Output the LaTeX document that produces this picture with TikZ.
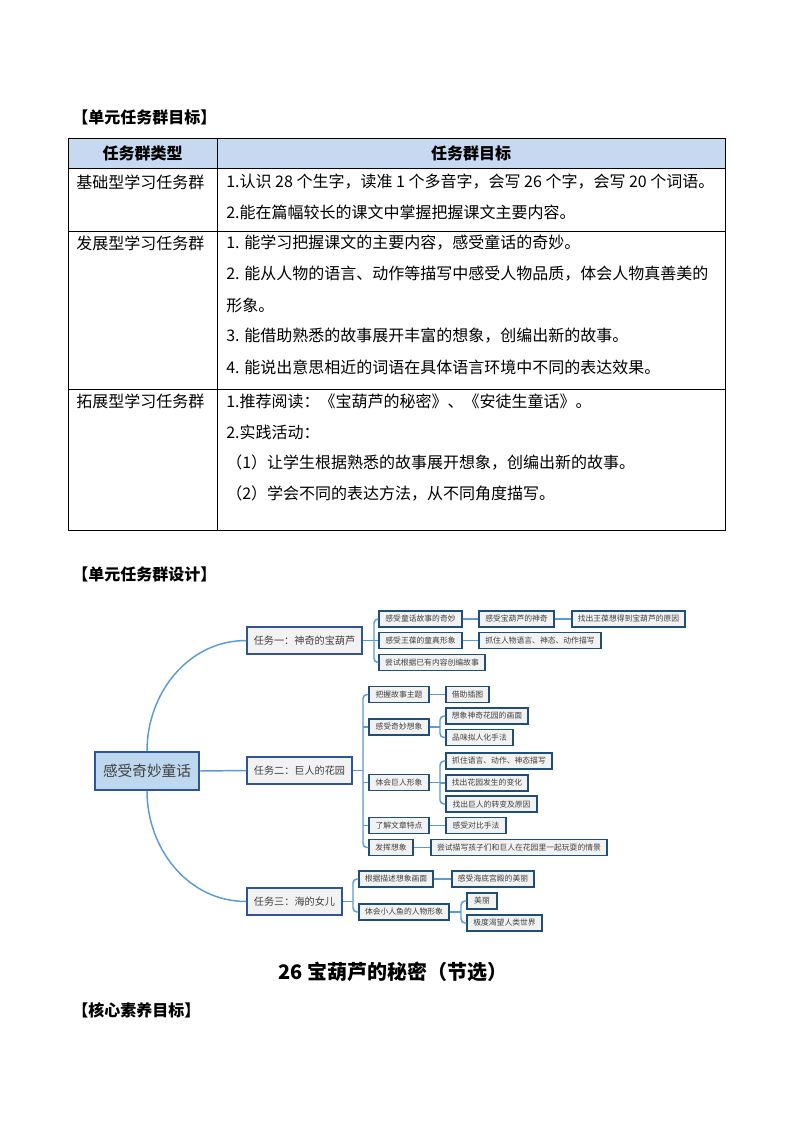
\documentclass[tikz,border=0pt]{standalone}
\usepackage{fontspec}
\newfontfamily\cjk{Noto Sans CJK SC}
\usetikzlibrary{calc}
\definecolor{hdr}{HTML}{C6D9F1}
\definecolor{mmline}{HTML}{5B9BD5}
\definecolor{mmbd}{HTML}{2F5597}
\definecolor{sbd}{HTML}{1F4E79}
\definecolor{rootfill}{HTML}{BDD7EE}
\definecolor{boxfill}{HTML}{F2F2F2}
\definecolor{mmtext}{HTML}{404040}
\begin{document}
\begin{tikzpicture}[x=0.75pt,y=-0.75pt,
 tl/.style={font=\cjk\fontsize{12}{14}\selectfont, anchor=west, inner sep=0},
 tc/.style={font=\cjk\bfseries\fontsize{12}{14}\selectfont, inner sep=0},
 hd/.style={font=\cjk\bfseries\fontsize{12}{14}\selectfont, anchor=west, inner sep=0},
 grid/.style={draw=black, line width=0.75pt},
 mm/.style={draw=mmline, line width=1.1pt},
 sbox/.style={draw=sbd, line width=0.9pt, fill=boxfill, text=mmtext, font=\cjk\fontsize{5.85}{7}\selectfont, minimum height=12pt, inner sep=0},
 tbox/.style={draw=mmbd, line width=1.1pt, fill=boxfill, text=mmtext, font=\cjk\fontsize{7.6}{9}\selectfont, minimum height=20.25pt, inner sep=0},
 rbox/.style={draw=mmbd, line width=1.3pt, fill=rootfill, text=mmtext, font=\cjk\fontsize{11}{13}\selectfont, minimum height=28.5pt, inner sep=0},
 w/.style={minimum width=#1*0.75pt},
]
\path[use as bounding box, fill=white] (0,0) rectangle (794,1123);

% headings
\node[hd] (h1) at (72,117) {【单元任务群目标】};
\node[hd] (h2) at (72,574) {【单元任务群设计】};
\node[tc, font=\cjk\bfseries\fontsize{15}{18}\selectfont] (title) at (393,972) {26 宝葫芦的秘密（节选）};
\node[hd] (h3) at (72,1010) {【核心素养目标】};

% table
\fill[hdr] (68,139) rectangle (725,169);
\draw[grid] (68,139) rectangle (725,530);
\draw[grid] (68,169) -- (725,169);
\draw[grid] (68,232) -- (725,232);
\draw[grid] (68,389) -- (725,389);
\draw[grid] (217,139) -- (217,530);

\node[tc] (th1) at (142.5,153) {任务群类型};
\node[tc] (th2) at (471,153) {任务群目标};

\node[tl] (c1) at (76,182) {基础型学习任务群};
\node[tl] (r1a) at (226,182) {1.认识 28 个生字，读准 1 个多音字，会写 26 个字，会写 20 个词语。};
\node[tl] (r1b) at (226,212) {2.能在篇幅较长的课文中掌握把握课文主要内容。};

\node[tl] (c2) at (76,243) {发展型学习任务群};
\node[tl] (r2a) at (226,243) {1. 能学习把握课文的主要内容，感受童话的奇妙。};
\node[tl] (r2b) at (226,274) {2. 能从人物的语言、动作等描写中感受人物品质，体会人物真善美的};
\node[tl] (r2c) at (226,305) {形象。};
\node[tl] (r2d) at (226,336) {3. 能借助熟悉的故事展开丰富的想象，创编出新的故事。};
\node[tl] (r2e) at (226,367) {4. 能说出意思相近的词语在具体语言环境中不同的表达效果。};

\node[tl] (c3) at (76,401) {拓展型学习任务群};
\node[tl] (r3a) at (226,401) {1.推荐阅读：《宝葫芦的秘密》、《安徒生童话》。};
\node[tl] (r3b) at (226,432) {2.实践活动：};
\node[tl] (r3c) at (226,463) {（1）让学生根据熟悉的故事展开想象，创编出新的故事。};
\node[tl] (r3d) at (226,494) {（2）学会不同的表达方法，从不同角度描写。};

% mind map nodes
\node[rbox, w=104] (root) at (147,771) {感受奇妙童话};
\node[tbox, w=115] (t1) at (304.5,640.5) {任务一：神奇的宝葫芦};
\node[tbox, w=105] (t2) at (299.5,770.5) {任务二：巨人的花园};
\node[tbox, w=95] (t3) at (294.5,901.5) {任务三：海的女儿};

\node[sbox, w=83] (a1) at (420.5,619) {感受童话故事的奇妙};
\node[sbox, w=83] (a2) at (420.5,640.5) {感受王葆的童真形象};
\node[sbox, w=106] (a3) at (432,662.5) {尝试根据已有内容创编故事};
\node[sbox, w=75] (a11) at (516.5,619) {感受宝葫芦的神奇};
\node[sbox, w=113] (a111) at (628.5,619) {找出王葆想得到宝葫芦的原因};
\node[sbox, w=122] (a21) at (540,640.5) {抓住人物语言、神态、动作描写};

\node[sbox, w=60] (b1) at (399,694.5) {把握故事主题};
\node[sbox, w=43] (b11) at (467.5,694.5) {借助插图};
\node[sbox, w=60] (b2) at (399,727) {感受奇妙想象};
\node[sbox, w=82] (b21) at (487,716) {想象神奇花园的画面};
\node[sbox, w=67] (b22) at (479.5,737.5) {品味拟人化手法};
\node[sbox, w=60] (b3) at (399,782.5) {体会巨人形象};
\node[sbox, w=106] (b31) at (499,761) {抓住语言、动作、神态描写};
\node[sbox, w=82] (b32) at (487,783) {找出花园发生的变化};
\node[sbox, w=91] (b33) at (491.5,804) {找出巨人的转变及原因};
\node[sbox, w=60] (b4) at (399,825.5) {了解文章特点};
\node[sbox, w=60] (b41) at (476,825.5) {感受对比手法};
\node[sbox, w=44] (b5) at (391,847.5) {发挥想象};
\node[sbox, w=176] (b51) at (519,847.5) {尝试描写孩子们和巨人在花园里一起玩耍的情景};

\node[sbox, w=74] (c1n) at (396,879) {根据描述想象画面};
\node[sbox, w=82] (c11) at (493,879) {感受海底宫殿的美丽};
\node[sbox, w=90] (c2n) at (404,912) {体会小人鱼的人物形象};
\node[sbox, w=30] (c21) at (482,901) {美丽};
\node[sbox, w=75] (c22) at (504.5,923) {极度渴望人类世界};

% junction coordinates
\coordinate (j1) at (374,640.5);
\coordinate (j2) at (363,770.5);
\coordinate (j2b) at (440,727);
\coordinate (j2c) at (440,782.5);
\coordinate (j3) at (353,901.5);
\coordinate (j3b) at (461,912);

% connectors (behind boxes)
\begin{scope}[on background layer/.try]
\end{scope}
\draw[mm] (root.north) to[out=90,in=180] (t1.west);
\draw[mm] (root.east) -- (t2.west);
\draw[mm] (root.south) to[out=-90,in=180] (t3.west);

\draw[mm] (t1.east) -- (j1);
\draw[mm, rounded corners=3pt] (a1.west) -| (j1 |- a3.west) -- (a3.west);
\draw[mm] (j1) -- (a2.west);
\draw[mm] (a1.east) -- (a11.west);
\draw[mm] (a11.east) -- (a111.west);
\draw[mm] (a2.east) -- (a21.west);

\draw[mm] (t2.east) -- (j2);
\draw[mm, rounded corners=3pt] (b1.west) -| (j2 |- b5.west) -- (b5.west);
\draw[mm] (j2 |- b2.west) -- (b2.west);
\draw[mm] (j2 |- b3.west) -- (b3.west);
\draw[mm] (j2 |- b4.west) -- (b4.west);
\draw[mm] (b1.east) -- (b11.west);
\draw[mm] (b2.east) -- (j2b);
\draw[mm, rounded corners=3pt] (b21.west) -| (j2b |- b22.west) -- (b22.west);
\draw[mm] (b3.east) -- (j2c);
\draw[mm, rounded corners=3pt] (b31.west) -| (j2c |- b33.west) -- (b33.west);
\draw[mm] (j2c |- b32.west) -- (b32.west);
\draw[mm] (b4.east) -- (b41.west);
\draw[mm] (b5.east) -- (b51.west);

\draw[mm] (t3.east) -- (j3);
\draw[mm, rounded corners=3pt] (c1n.west) -| (j3 |- c2n.west) -- (c2n.west);
\draw[mm] (c1n.east) -- (c11.west);
\draw[mm] (c2n.east) -- (j3b);
\draw[mm, rounded corners=3pt] (c21.west) -| (j3b |- c22.west) -- (c22.west);
\end{tikzpicture}
\end{document}
